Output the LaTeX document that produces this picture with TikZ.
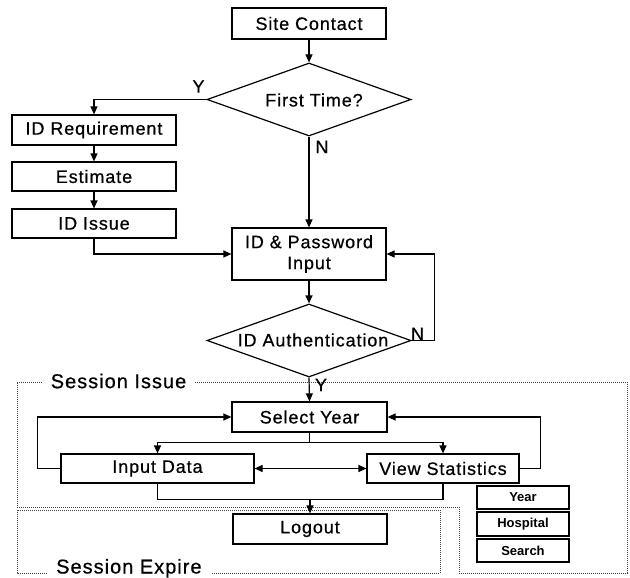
\documentclass[tikz,border=0pt]{standalone}
\usepackage{fontspec}
\setmainfont{Liberation Sans}
\newfontfamily\lsfont{Liberation Sans}[LetterSpace=5,FakeBold=0.6]
\usetikzlibrary{arrows.meta,shapes.geometric}
\begin{document}
\begin{tikzpicture}[x=1pt,y=-1pt,
  txt/.style={font=\lsfont\fontsize{18}{21}\selectfont},
  box/.style={draw,line width=1.2pt,inner sep=0pt,minimum width=154pt,minimum height=30pt,txt},
  dia/.style={draw,diamond,line width=1.2pt,inner sep=0pt,minimum width=204pt,minimum height=73pt},
  sbox/.style={draw,line width=1.5pt,inner sep=0pt,minimum width=92pt,minimum height=23pt,font=\bfseries\fontsize{13}{15}\selectfont},
  con/.style={line width=1.2pt},
  arr/.style={con,-{Triangle[length=8pt,width=7pt]}},
  arrr/.style={con,{Triangle[length=8pt,width=7pt]}-{Triangle[length=8pt,width=7pt]}},
  zone/.style={draw=black!75,line width=0.8pt,dash pattern=on 1pt off 1pt},
  zlabel/.style={fill=white,inner xsep=9pt,inner ysep=1pt,font=\lsfont\fontsize{20}{22}\selectfont}]
\useasboundingbox[fill=white] (0,0) rectangle (630,578);

% session zones
\draw[zone] (17,382) -- (627,382) -- (627,573) -- (459,573) -- (459,507) -- (17,507) -- cycle;
\draw[zone] (17,510) rectangle (440,573);
\node[zlabel] (zi) at (118.5,381) {Session Issue};
\node[zlabel,anchor=base west,inner ysep=0pt] (ze) at (47,573.5) {Session Expire};

% nodes
\node[box,minimum height=31pt] (sc) at (309,23.5) {Site Contact};
\node[dia] (ft) at (309,99.5) {};
\node[txt] (ftt) at (314,100) {First Time?};
\node[box,minimum width=164pt] (req) at (94,130) {ID Requirement};
\node[box,minimum width=164pt,minimum height=29pt] (est) at (94,176.5) {Estimate};
\node[box,minimum width=164pt,minimum height=29pt] (iss) at (94,223.5) {ID Issue};
\node[box,minimum height=52pt,align=center] (idp) at (309,254) {ID \& Password\\Input};
\node[dia] (au) at (309,340.5) {};
\node[txt] (aut) at (313,340) {ID Authentication};
\node[box,minimum width=155pt] (sel) at (309.5,417) {Select Year};
\node[box,minimum width=193pt,minimum height=29pt] (inp) at (157.5,468.5) {Input Data};
\node[box,minimum width=152pt,minimum height=29pt] (vs) at (443,468.5) {View Statistics};
\node[box] (lo) at (310,529) {Logout};
\node[sbox] (yr) at (523,497.5) {Year};
\node[sbox,minimum height=24pt] (hos) at (523,524) {Hospital};
\node[sbox] (sea) at (523,550.5) {Search};

% labels
\node[txt] (ly) at (198.5,86.5) {Y};
\node[txt] (ln) at (322,147) {N};
\node[txt] (ln2) at (417.5,334) {N};
\node[txt] (ly2) at (321,385) {Y};

% connectors
\draw[arr] (sc.south) -- (ft.north);
\draw[arr] (ft.west) -| (req.north);
\draw[arr] (ft.south) -- (idp.north);
\draw[arr] (req.south) -- (est.north);
\draw[arr] (est.south) -- (iss.north);
\draw[arr] (iss.south) |- (idp.west);
\draw[arr] (idp.south) -- (au.north);
\draw[arr] (au.east) -- ++(23,0) |- (idp.east);
\draw[arr] (au.south) -- (sel.north);
\draw[arr] (sel.south) -- ++(0,10) -| (inp.north);
\draw[arr] (sel.south) -- ++(0,10) -| (vs.north);
\draw[arr] (inp.west) -- ++(-23,0) |- (sel.west);
\draw[arr] (vs.east) -- ++(21,0) |- (sel.east);
\draw[arrr] (inp.east) -- (vs.west);
\draw[con] (inp.south) -- ++(0,16) coordinate (j) -| (vs.south);
\draw[arr] (lo.north |- j) -- (lo.north);
\end{tikzpicture}
\end{document}
